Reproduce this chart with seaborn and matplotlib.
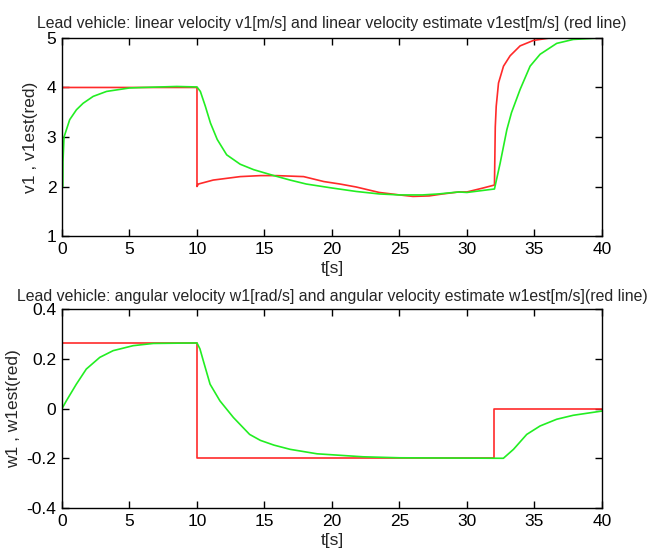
import matplotlib
matplotlib.use("Agg")
import matplotlib.pyplot as plt
import seaborn as sns

# top panel: linear velocity
v_est_t = [0, 10, 10, 10.1, 11.2, 13.2, 14.7, 15.9, 17.9, 19.4, 20.6, 21.8, 23.5, 25, 26, 27.2,
           28.2, 29.4, 30, 31.2, 32.04, 32.1, 32.17, 32.34, 32.71, 33.2, 33.94, 34.93, 36.16, 40]
v_est = [4, 4, 2.0, 2.05, 2.13, 2.2, 2.22, 2.22, 2.2, 2.1, 2.05, 1.99, 1.88, 1.83, 1.8, 1.81,
         1.85, 1.89, 1.89, 1.97, 2.03, 3.2, 3.62, 4.09, 4.43, 4.64, 4.84, 4.95, 5.0, 5.0]

v_t = [0.06, 0.07, 0.15, 0.57, 1.07, 1.56, 2.31, 3.3, 5, 6, 8.5, 10, 10.25, 10.62, 11, 11.5, 12.2,
       13.2, 14.2, 15.7, 16.9, 18.1, 20, 21.8, 23.5, 25, 26.7, 27.9, 29.4, 30, 32.04, 32.46,
       32.96, 33.3, 33.94, 34.68, 35.42, 36.65, 37.88, 40]
v = [2.0, 2.5, 3.0, 3.35, 3.55, 3.68, 3.82, 3.92, 3.99, 4.0, 4.02, 4.01, 3.92, 3.62, 3.28, 2.95,
     2.64, 2.45, 2.34, 2.22, 2.13, 2.05, 1.97, 1.9, 1.85, 1.83, 1.83, 1.85, 1.89, 1.88, 1.95,
     2.47, 3.15, 3.49, 3.96, 4.43, 4.67, 4.89, 4.97, 5.0]

# bottom panel: angular velocity
w_est_t = [0, 10, 10, 32, 32, 40]
w_est = [0.264, 0.264, -0.2, -0.2, 0.0, 0.0]

w_t = [0, 0.32, 1.06, 1.8, 2.8, 3.79, 5.27, 6.76, 10, 10.22, 10.47, 10.97, 11.7, 12.7, 13.9,
       14.7, 15.7, 16.9, 18.9, 20.6, 22.3, 25, 32.7, 33.45, 34.43, 35.42, 36.65, 37.88, 40]
w = [0, 0.031, 0.098, 0.159, 0.206, 0.233, 0.253, 0.262, 0.264, 0.24, 0.192, 0.098, 0.031,
     -0.036, -0.104, -0.128, -0.147, -0.164, -0.182, -0.188, -0.194, -0.198, -0.2, -0.164,
     -0.104, -0.07, -0.043, -0.027, -0.01]

x_ticks = [0, 5, 10, 15, 20, 25, 30, 35, 40]
v_ticks = [1, 2, 3, 4, 5]
w_ticks = [-0.4, -0.2, 0, 0.2, 0.4]
w_tick_labels = ["-0.4", "-0.2", "0", "0.2", "0.4"]

sns.set_style("ticks")
plt.rcParams["font.family"] = ["Liberation Sans", "DejaVu Sans"]

RED = "#ff2a2a"
GREEN = "#22ee22"

fig = plt.figure(figsize=(6.5, 5.58), dpi=100)
ax1 = fig.add_axes([0.0954, 0.577, 0.8306, 0.355])
ax2 = fig.add_axes([0.0954, 0.0896, 0.8306, 0.3564])

sns.lineplot(x=v_est_t, y=v_est, ax=ax1, color=RED, lw=1.2, estimator=None, sort=False)
sns.lineplot(x=v_t, y=v, ax=ax1, color=GREEN, lw=1.2, estimator=None, sort=False)
sns.lineplot(x=w_est_t, y=w_est, ax=ax2, color=RED, lw=1.2, estimator=None, sort=False)
sns.lineplot(x=w_t, y=w, ax=ax2, color=GREEN, lw=1.2, estimator=None, sort=False)

ax1.set_xlim(0, 40)
ax1.set_ylim(1, 5)
ax1.set_yticks(v_ticks)
ax2.set_xlim(0, 40)
ax2.set_ylim(-0.4, 0.4)
ax2.set_yticks(w_ticks)
ax2.set_yticklabels(w_tick_labels)

for ax in (ax1, ax2):
    ax.set_xticks(x_ticks)
    ax.tick_params(direction="in", top=True, right=True, length=5, width=1,
                   labelsize=12.5, colors="black", pad=4)
    for s in ax.spines.values():
        s.set_visible(True)
        s.set_color("black")
        s.set_linewidth(1)
    ax.set_xlabel("t[s]", fontsize=12.5, labelpad=3)

ax1.set_title("Lead vehicle: linear velocity v1[m/s] and linear velocity estimate v1est[m/s] (red line)",
              fontsize=11.4, pad=7)
ax2.set_title("Lead vehicle: angular velocity w1[rad/s] and angular velocity estimate w1est[m/s](red line)",
              fontsize=11.4, pad=6)
ax1.set_ylabel("v1 , v1est(red)", fontsize=12.5, labelpad=6)
ax2.set_ylabel("w1 , w1est(red)", fontsize=12.5, labelpad=4)

fig.savefig("out.png", dpi=100)
